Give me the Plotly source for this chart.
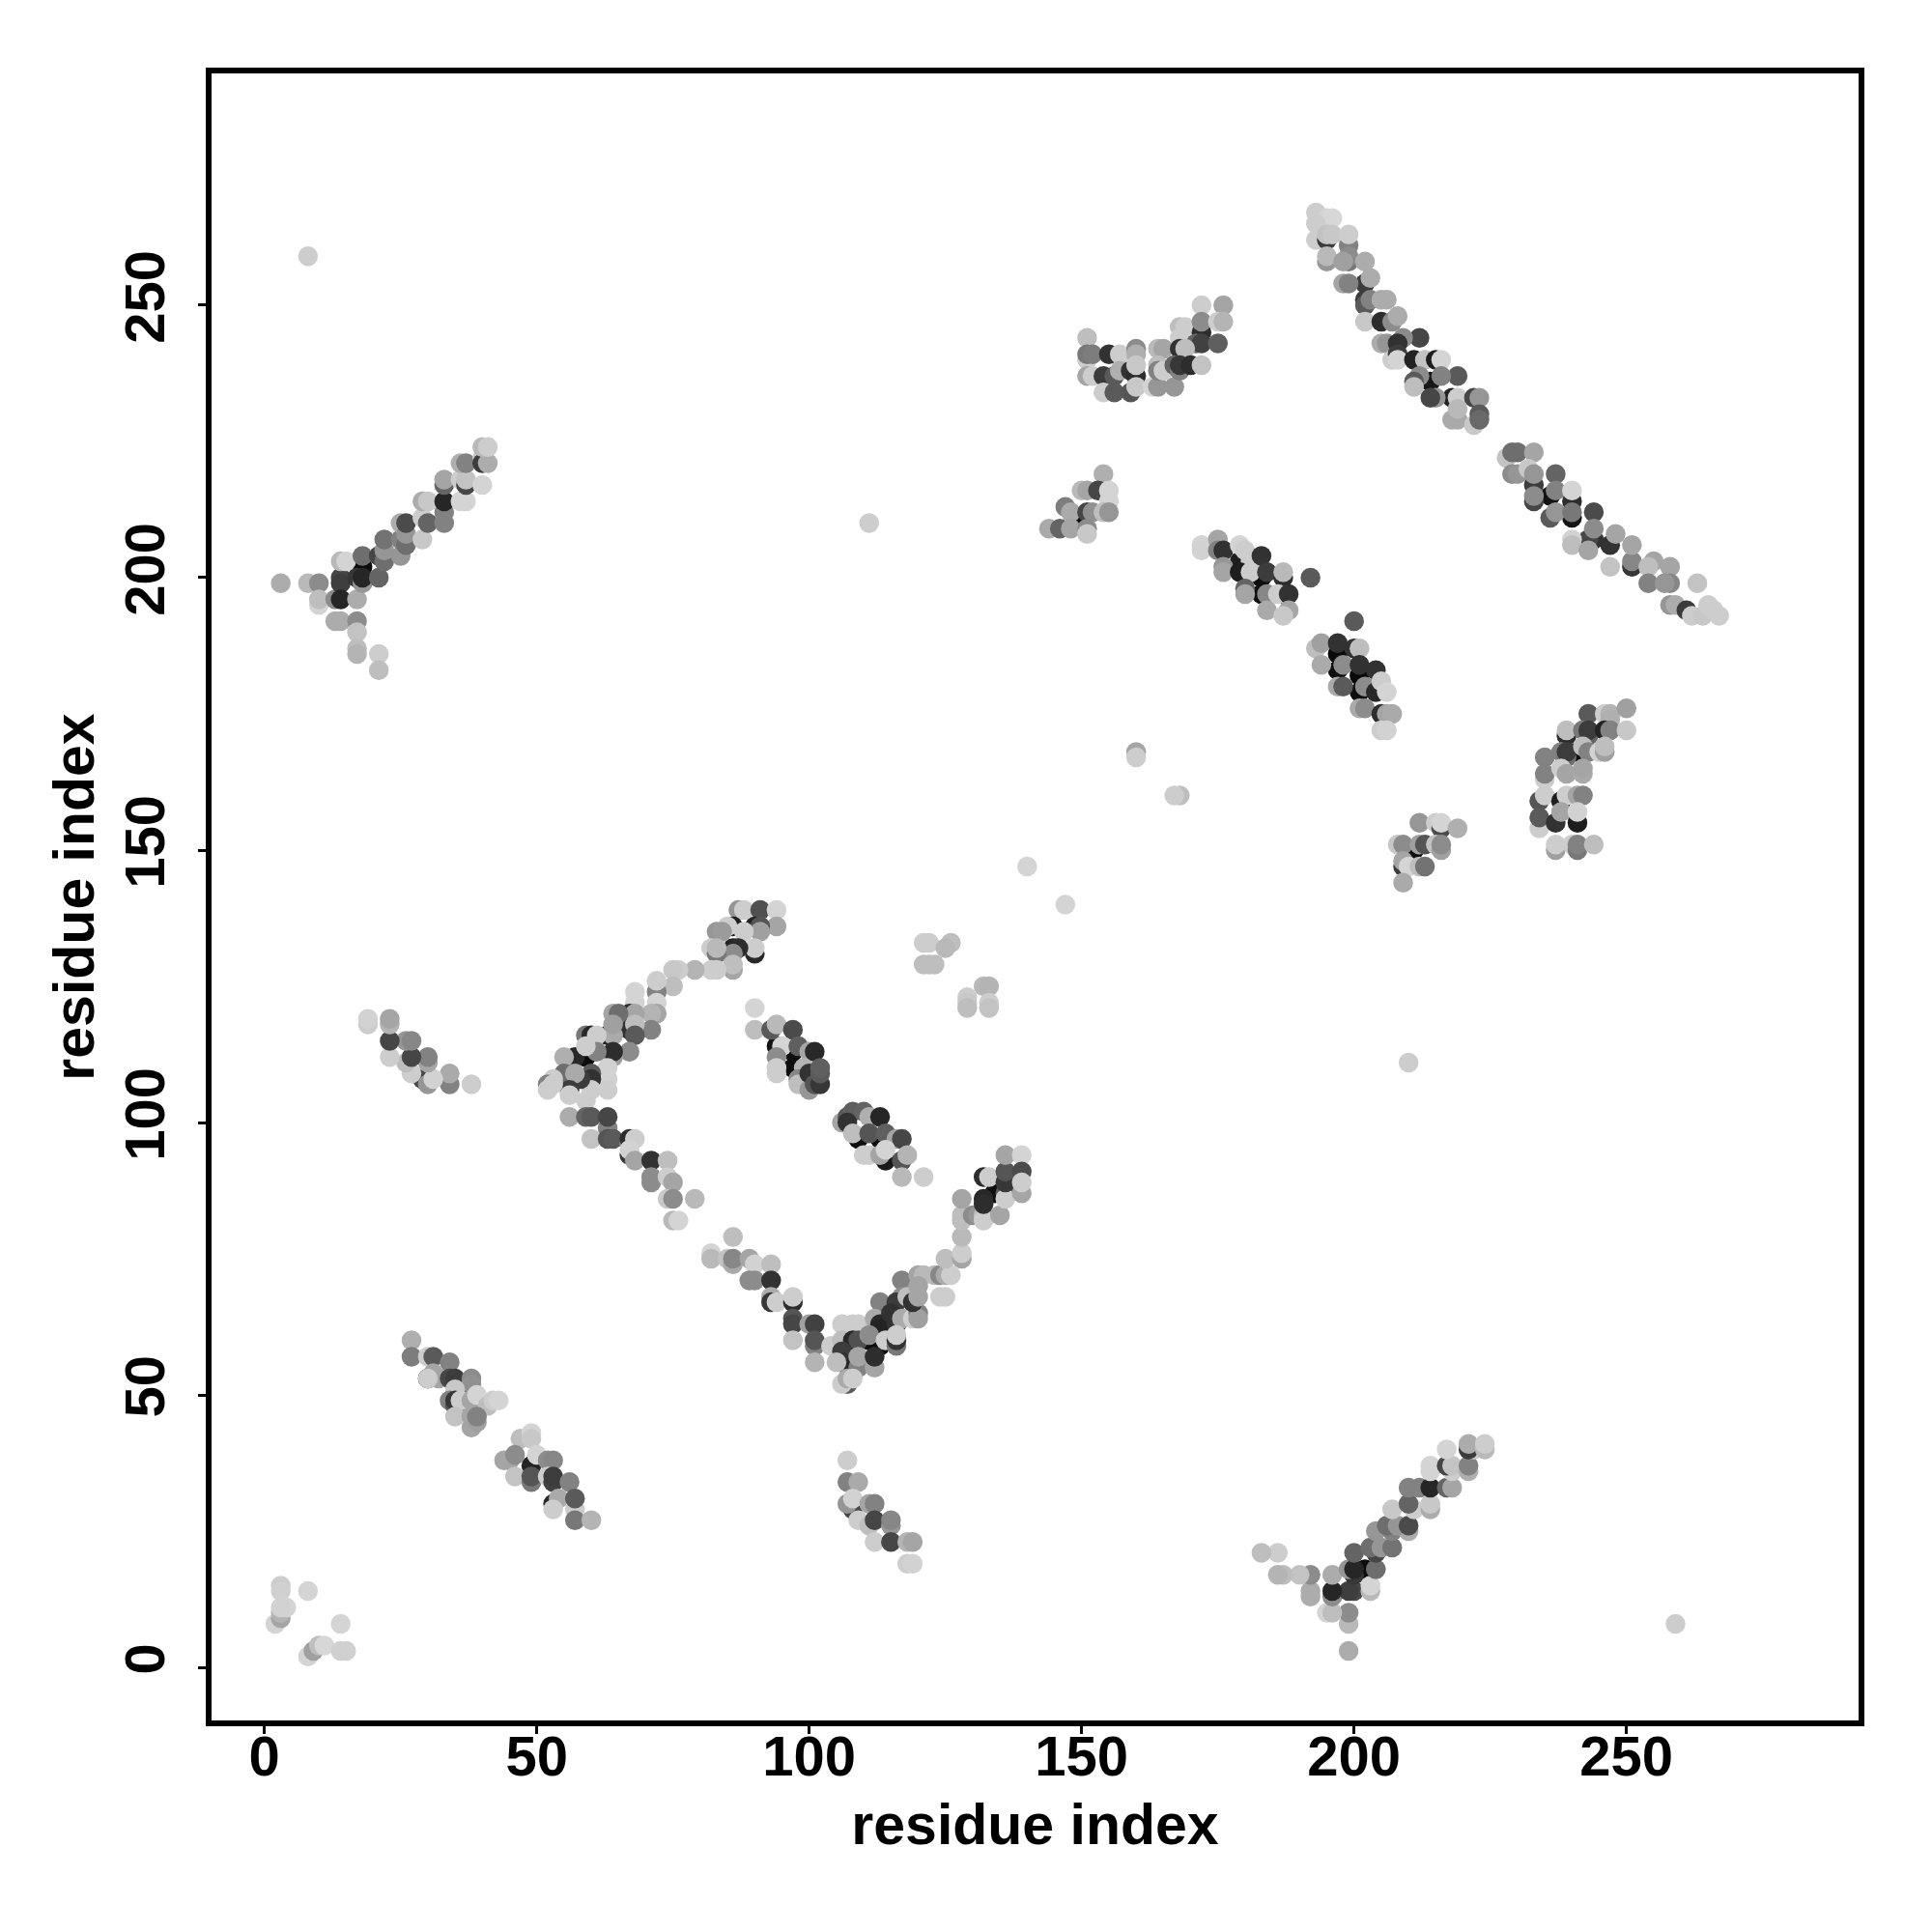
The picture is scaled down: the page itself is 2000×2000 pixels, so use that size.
import plotly.graph_objects as go

# Each point: (residue i, residue j, grey level)
chain_top = [(193,267,205),(195,266,212),(196,266,215),(193,265,205),(193,262,205),(195,262,60),(195,263,195),(196,263,200),
(195,258,150),(195,259,185),(199,261,130),(199,263,205),(199,258,120),(199,259,140),(198,258,160),(202,258,172),(202,254,60),
(198,254,165),(199,254,130),(203,255,172),(202,251,60),(202,250,90),(203,251,130),(205,251,172),(206,251,172),(202,247,200),
(205,247,45),(207,247,140),(208,248,172),(212,244,70),(209,244,140),(205,243,172),(206,243,150),(208,243,50),(207,240,205),
(208,241,60),(208,240,212),(211,240,35),(213,240,195),(215,240,30),(216,240,212),(219,237,90),(216,237,130),(214,236,25),
(212,237,140),(211,236,90),(211,235,190),(218,233,35),(215,233,150),(214,233,70),(219,233,205),(222,233,70),(223,233,150),
(218,229,170),(219,229,170),(219,231,185),(222,228,200),(223,230,90),(223,229,105)]
chain_bottom = [(228,222,195),(229,223,110),(230,223,110),(233,223,165),(229,219,140),(230,219,150),(233,217,60),(232,220,200),
(233,219,150),(237,219,100),(233,214,70),(233,215,140),(236,215,20),(237,216,130),(240,214,45),(240,216,212),(236,211,90),
(237,212,150),(240,211,20),(240,212,120),(244,212,75),(244,207,50),(243,207,70),(240,207,210),(240,206,190),(243,205,165),
(244,209,140),(247,206,50),(248,208,165),(247,202,195),(251,202,55),(251,203,135),(251,206,165),(255,203,165),(254,202,190),
(258,202,165),(254,199,130),(258,199,135),(257,199,150),(263,199,195),(258,195,150),(259,195,172),(261,194,60),(262,193,205),
(264,193,200),(266,194,205),(267,193,205),(265,195,205)]

strand_upper = [(151,244,190),(151,240,205),(151,241,120),(152,241,125),(151,237,165),(152,237,205),(155,241,50),(157,241,205),
(154,237,60),(156,237,90),(157,238,175),(160,242,140),(160,241,175),(159,238,50),(160,237,45),(160,239,200),(154,234,205),
(156,234,90),(159,234,85),(160,235,200),(163,235,212),(164,235,150),(167,235,150),(164,242,185),(165,242,165),(164,239,190),
(164,238,130),(165,238,205),(168,246,190),(169,246,205),(168,244,205),(172,250,205),(176,250,165),(172,245,45),(172,247,140),
(175,247,205),(176,247,180),(171,243,100),(172,243,65),(175,243,95),(168,242,50),(169,242,190),(167,239,100),(168,238,130),
(168,239,55),(170,239,45),(172,239,195)]
strand_lower = [(154,219,175),(150,216,185),(151,216,165),(153,216,70),(155,216,212),(155,214,212),(147,213,125),(148,212,170),
(150,211,15),(151,212,70),(152,212,145),(154,212,190),(155,212,150),(144,209,170),(146,209,100),(148,209,165),(151,209,140),(151,208,200)]
helix_mid = [(172,206,212),(172,205,210),(175,207,165),(175,205,130),(176,205,50),(179,203,30),(179,206,212),(180,205,205),
(176,202,150),(176,201,165),(181,203,205),(183,204,50),(179,201,30),(181,201,205),(183,200,15),(184,201,60),(187,200,45),
(187,201,185),(180,198,100),(180,197,165),(183,197,15),(187,197,15),(184,197,135),(186,197,205),(188,197,50),(184,194,170),
(188,194,165),(187,193,200),(192,200,90)]
helix_low = [(200,192,90),(193,187,190),(194,188,160),(197,186,10),(197,188,50),(200,187,50),(201,187,190),(194,184,170),
(197,183,15),(198,184,140),(201,182,10),(201,184,50),(204,183,50),(197,180,170),(198,180,90),(201,179,15),(202,180,140),
(204,179,40),(205,181,205),(206,179,212),(201,176,170),(202,176,140),(205,175,45),(206,175,165),(207,175,170),(205,172,205),(206,172,210)]
patch_a = [(212,155,150),(215,155,205),(216,154,75),(216,155,212),(219,154,175),(208,151,200),(209,151,140),(211,150,15),
(212,151,160),(213,151,85),(215,151,195),(216,150,160),(216,151,140),(209,147,60),(209,148,165),(210,147,212),(212,147,190),
(213,147,115),(209,144,170)]
patch_b = [(243,175,90),(246,175,205),(247,175,180),(247,174,175),(250,176,160),(239,171,45),(239,172,190),(242,172,120),
(243,171,100),(243,172,60),(246,172,35),(247,172,130),(250,172,200),(235,167,130),(238,168,130),(239,167,110),(239,168,60),
(241,168,15),(242,169,190),(243,168,130),(245,168,210),(246,168,160),(246,169,190),(235,163,205),(235,164,130),(238,165,205),
(239,164,165),(242,164,170),(242,165,165),(234,159,85),(235,160,205),(238,159,30),(239,160,205),(241,160,165),(242,160,130),
(234,154,205),(234,156,90),(237,155,50),(238,157,165),(241,155,30),(241,157,210),(237,150,160),(237,151,205),(240,151,205),
(241,150,120),(241,151,130),(244,151,190)]

arm_upper = [(87,139,150),(88,139,205),(91,139,80),(94,139,212),(94,136,165),(86,136,30),(90,136,35),(91,136,85),(91,135,160),
(85,136,205),(88,135,205),(83,135,150),(84,135,155),(90,131,40),(90,132,205),(86,132,35),(87,132,45),(86,131,140),(82,132,205),
(83,131,120),(83,132,185),(86,128,165),(86,129,190),(83,128,205),(82,128,205),(79,128,180),(76,128,205),(75,128,200),(75,125,190),
(72,124,130),(72,122,212),(72,126,205),(72,120,165),(71,120,180),(71,117,130),(68,124,212),(68,122,212),(67,120,45),(68,120,165),
(64,120,165),(65,120,110),(67,117,50),(68,118,190),(68,116,90),(63,116,35),(64,116,170),(64,118,160),(59,116,120),(60,116,40),
(61,116,205),(67,113,140),(64,112,160),(64,113,45),(59,112,12),(57,112,40),(55,112,175),(61,113,130),(59,114,205),(63,110,210),
(63,108,210),(63,106,205),(60,109,90),(60,108,50),(60,106,205),(58,108,60),(55,109,110),(57,109,170),(56,106,60),(56,107,12),
(53,108,205),(52,107,130),(53,107,205),(52,106,205),(56,105,205),(59,104,205)]
fall_line = [(56,101,172),(59,101,100),(60,101,90),(63,99,130),(63,101,70),(60,97,195),(63,97,85),(64,97,90),(67,96,140),(67,97,45),
(68,97,205),(67,94,60),(67,95,210),(68,93,165),(71,93,50),(74,93,190),(71,90,140),(71,89,140),(74,90,205),(75,89,165),(74,86,200),
(75,86,140),(79,86,185),(75,82,185),(76,82,212),(86,79,190),(82,76,212),(82,75,185),(85,75,195),(86,74,170),(86,75,135),(89,75,165),
(90,74,210),(93,74,190),(89,71,140),(90,71,140),(93,71,50),(93,68,172),(93,67,55),(94,67,205),(97,67,45),(97,68,205),(97,64,85),
(97,63,70),(97,60,195),(100,63,160),(101,63,65),(101,59,130),(101,60,85),(101,56,180)]
arm_lower = [(106,63,205),(108,63,205),(109,63,205),(104,59,205),(106,60,190),(108,60,40),(109,60,80),(106,58,60),(106,56,50),
(107,56,15),(108,55,40),(105,56,190),(109,55,130),(109,57,165),(107,52,90),(106,52,205),(107,53,170),(108,53,205),(112,55,165),
(112,57,45),(113,67,130),(112,64,170),(113,63,40),(113,62,35),(111,61,140),(111,60,15),(113,59,15),(114,60,205),(117,71,130),
(117,68,140),(116,67,60),(118,68,190),(115,65,50),(115,62,15),(116,63,50),(117,64,170),(119,64,205),(120,65,130),(120,64,160),
(116,59,120),(116,60,50),(116,61,205),(120,72,165),(121,72,185),(120,70,165),(119,67,50),(120,68,165),(123,72,185),(124,72,135),
(125,72,170),(126,72,205),(124,68,205),(125,68,205),(125,75,190),(128,75,165),(128,76,205),(128,79,185),(128,82,190),(128,83,190),
(128,86,165),(130,83,140),(131,83,150),(132,83,190),(132,82,205),(135,83,165),(132,86,40),(132,85,45),(132,90,45),(133,90,205),
(134,87,15),(136,87,90),(136,86,205),(136,89,55),(136,91,85),(136,94,165),(139,94,212),(139,91,75),(139,87,165),(139,89,205)]

block_e = [(90,121,212),(90,117,190),(93,117,90),(94,118,185),(97,117,75),(94,114,20),(95,114,212),(94,112,140),(94,109,205),
(94,110,205),(97,113,15),(98,114,95),(100,113,165),(101,113,40),(97,110,15),(99,110,180),(98,108,135),(98,107,190),(100,106,150),
(100,109,50),(101,107,85),(102,107,55),(102,109,90),(102,110,95)]
block_f = [(106,100,165),(107,101,90),(108,102,95),(107,100,50),(110,102,100),(111,101,175),(113,101,38),(108,98,190),(109,97,15),
(111,98,85),(113,97,15),(114,98,95),(116,97,165),(117,97,70),(110,94,205),(111,94,205),(113,94,165),(114,93,25),(114,95,212),
(117,93,85),(118,94,180),(117,90,185),(121,90,205)]
block_e2 = [(121,133,205),(122,133,205),(126,133,190),(125,132,185),(121,129,190),(122,129,190),(123,129,190),(129,123,205),
(129,122,200),(129,121,190),(132,125,185),(133,125,180),(133,122,205),(133,121,195)]

hairpin_a = [(27,60,175),(27,57,125),(30,57,205),(31,57,90),(34,56,130),(30,53,10),(31,54,165),(32,53,165),(30,53,205),(34,53,70),
(35,53,60),(38,53,140),(38,52,145),(35,51,200),(34,49,130),(35,48,85),(35,49,55),(37,49,15),(38,48,140),(36,49,205),(38,49,165),
(39,50,212),(41,48,190),(42,49,205),(43,49,212),(35,46,195),(38,44,165),(38,46,165),(39,45,160),(39,46,130)]
hairpin_b = [(47,42,190),(49,43,212),(49,42,200),(44,38,165),(45,38,165),(46,39,140),(49,37,35),(50,39,212),(52,38,140),(53,38,135),
(46,35,195),(49,34,120),(49,35,85),(52,35,205),(53,34,65),(53,35,60),(56,34,130),(53,30,40),(54,31,170),(53,29,205),(57,29,205),
(57,31,90),(57,27,120),(60,27,180)]
cross_a = [(107,38,205),(107,34,130),(109,34,170),(108,29,70),(107,30,150),(108,31,210),(111,30,165),(112,30,130),(109,27,205),
(111,26,190),(112,27,70),(115,26,150),(115,27,135),(112,23,205),(115,23,70),(118,23,180),(119,23,165),(118,19,205),(119,19,210)]
cross_b = [(38,107,205),(34,107,130),(34,109,170),(29,108,70),(30,107,150),(31,108,210),(30,111,165),(30,112,130),(27,109,205),
(26,111,190),(27,112,70),(26,115,150),(27,115,135),(23,112,205),(23,115,70),(23,118,180),(23,119,165),(19,118,205),(19,119,210)]

contact_a = [(3,199,172),(8,199,185),(10,199,140),(10,195,212),(10,196,190),(13,196,140),(14,200,70),(14,199,62),(14,196,38),
(17,196,172),(13,192,172),(14,192,172),(17,192,140),(17,190,195),(17,187,190),(17,186,180),(21,186,205),(21,183,190),(14,203,185),
(15,203,212),(18,202,12),(18,204,110),(17,200,55),(18,199,150),(18,200,38),(21,200,100),(21,204,70),(22,203,110),(22,205,150),
(22,207,115),(25,204,150),(25,207,130),(26,206,110),(25,210,172),(26,208,150),(26,210,75),(29,207,200),(29,211,205),(30,210,100),
(33,210,130),(29,214,172),(30,214,200),(33,212,130),(33,214,38),(33,217,100),(33,218,165),(36,214,212),(37,214,212),(36,218,205),
(37,217,70),(37,218,195),(40,217,212),(36,221,175),(37,221,130),(40,222,205),(40,221,60),(41,221,172),(40,224,185),(41,224,205)]
contact_b = [(199,3,172),(199,8,185),(199,10,140),(195,10,212),(196,10,190),(196,13,140),(200,14,70),(199,14,62),(196,14,38),
(196,17,172),(192,13,172),(192,14,172),(192,17,140),(190,17,195),(187,17,190),(186,17,180),(186,21,205),(183,21,190),(203,14,185),
(203,15,212),(202,18,12),(204,18,110),(200,17,55),(199,18,150),(200,18,38),(200,21,100),(204,21,70),(203,22,110),(205,22,150),
(207,22,115),(204,25,150),(207,25,130),(206,26,110),(210,25,172),(208,26,150),(210,26,75),(207,29,200),(211,29,205),(210,30,100),
(210,33,130),(214,29,172),(214,30,200),(212,33,130),(214,33,38),(217,33,100),(218,33,165),(214,36,212),(214,37,212),(218,36,205),
(217,37,70),(218,37,195),(217,40,212),(221,36,175),(221,37,130),(222,40,205),(221,40,60),(221,41,172),(224,40,185),(224,41,205)]
corner = [(3,15,205),(3,14,208),(8,14,212),(2,8,212),(3,9,165),(3,10,180),(4,11,212),(3,11,210),(14,8,212),(8,2,212),(9,3,160),
(10,4,190),(11,4,215),(14,3,208),(15,3,208)]
singles = [(8,259,205),(259,8,205),(111,210,205),(210,111,205),(140,147,212),(147,140,212),(160,168,165),(160,167,205),(168,160,190),
(167,160,205)]

clusters = [chain_top, chain_bottom, strand_upper, strand_lower, helix_mid, helix_low, patch_a, patch_b, arm_upper, fall_line,
            arm_lower, block_e, block_f, block_e2, hairpin_a, hairpin_b, cross_a, cross_b, contact_a, contact_b, corner, singles]
tick_values = [0, 50, 100, 150, 200, 250]
axis_label = "residue index"

xs, ys, cols = [], [], []
for cluster in clusters:
    # the darkest contacts sit beneath their neighbours, showing only as crescents
    for a, b, g in sorted(cluster, key=lambda p: p[2] >= 30):
        xs.append(a)
        ys.append(b)
        cols.append(f"rgb({g},{g},{g})")

fig = go.Figure(go.Scatter(x=xs, y=ys, mode="markers",
                           marker=dict(size=20.5, color=cols, line=dict(width=0)), hoverinfo="skip"))

font_title = dict(family="Liberation Sans", size=59, color="black", weight="bold")
axis_common = dict(
    tickmode="array", tickvals=tick_values, ticktext=[str(v) for v in tick_values],
    showgrid=False, zeroline=False, showline=True, mirror=True, linecolor="black", linewidth=6,
    ticks="outside", ticklen=8, tickwidth=2.5, tickcolor="black",
    tickfont=dict(family="Liberation Sans", size=58, color="black", weight="bold"),
)
fig.update_xaxes(range=[-9.7, 292.6], ticklabelstandoff=-27,
                 title=dict(text=axis_label, font=font_title, standoff=21), **axis_common)
fig.update_yaxes(range=[-9.75, 292.55], tickangle=-90, ticklabelstandoff=12,
                 title=dict(text=axis_label, font=font_title, standoff=2), **axis_common)
fig.update_layout(width=2000, height=2000, margin=dict(l=219, r=76, t=76, b=219, autoexpand=False),
                  paper_bgcolor="white", plot_bgcolor="white", showlegend=False)
fig.write_html("out.html", config=dict(displayModeBar=False), post_script="document.body.style.margin='0';")
